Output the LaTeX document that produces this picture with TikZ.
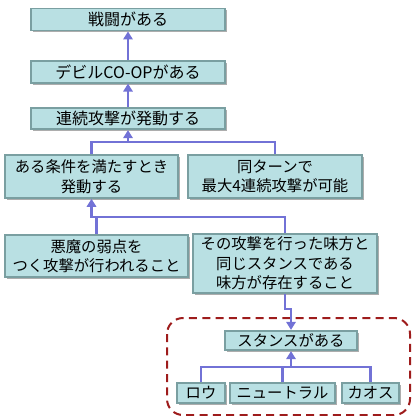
\documentclass[tikz,border=0pt]{standalone}
\usepackage{fontspec}
\setmainfont{Noto Sans CJK JP}
\usetikzlibrary{arrows.meta,shadows}
\definecolor{boxfill}{HTML}{B9E0E3}
\definecolor{boxline}{HTML}{7A9FA1}
\definecolor{linkcol}{HTML}{7272D6}
\definecolor{groupcol}{HTML}{9E1C1C}
\begin{document}
\begin{tikzpicture}[x=0.75pt,y=-0.75pt,
  box/.style={draw=boxline, line width=1.4pt, fill=boxfill, align=center, inner sep=1pt,
    font=\fontsize{11.5}{14.6}\selectfont,
    drop shadow={shadow xshift=1.5pt, shadow yshift=-1.5pt, fill=black!40, opacity=0.8}},
  link/.style={draw=linkcol, line width=1.8pt},
  arr/.style={link, -{Triangle[width=7pt,length=6pt]}}]
  \useasboundingbox (0,0) rectangle (411,416);
  % stance group
  \draw[groupcol, line width=1.5pt, dash pattern=on 6pt off 4pt, rounded corners=12pt] (167,318) rectangle (410,415);
  % boxes
  \node[box, minimum width=145.5pt, minimum height=16.5pt, font=\fontsize{12}{14}\selectfont] (b1) at (128,19.5) {戦闘がある};
  \node[box, minimum width=145.5pt, minimum height=16pt, font=\fontsize{12}{14}\selectfont] (b2) at (128,72) {デビルCO-OPがある};
  \node[box, minimum width=145.5pt, minimum height=16pt, font=\fontsize{12}{14}\selectfont] (b3) at (128,118.5) {連続攻撃が発動する};
  \node[box, minimum width=130pt, minimum height=32pt] (b4) at (91.5,176.5) {ある条件を満たすとき\\発動する};
  \node[box, minimum width=130.5pt, minimum height=32pt] (b5) at (275,176.5) {同ターンで\\最大4連続攻撃が可能};
  \node[box, minimum width=137pt, minimum height=31.5pt] (b6) at (96.5,256) {悪魔の弱点を\\つく攻撃が行われること};
  \node[box, minimum width=138pt, minimum height=44pt] (b7) at (285,263.5) {その攻撃を行った味方と\\同じスタンスである\\味方が存在すること};
  \node[box, minimum width=99pt, minimum height=14.5pt] (b8) at (291,340.5) {スタンスがある};
  \node[box, minimum width=36pt, minimum height=15pt] (lo) at (201,393) {ロウ};
  \node[box, minimum width=79pt, minimum height=15pt] (ne) at (282.5,393) {ニュートラル};
  \node[box, minimum width=43pt, minimum height=15pt] (ka) at (370.5,393) {カオス};
  % junctions
  \coordinate (j1) at (91.5,142);
  \coordinate (j2) at (96.5,217);
  \coordinate (j3) at (285,309);
  \coordinate (j4) at (201,367);
  % connectors
  \draw[arr] (b2.north) -- (b1.south);
  \draw[arr] (b3.north) -- (b2.south);
  \draw[link] (b4.north) |- (j1) -| (b5.north);
  \draw[arr] (j1 -| b3.south) -- (b3.south);
  \draw[link] (b6.north) -- (j2);
  \draw[arr] (b7.north) |- (j2 -| b4.south) -- (b4.south);
  \draw[arr] (b7.south) |- (j3) -| (b8.north);
  \draw[link] (lo.north) |- (j4) -| (ka.north);
  \draw[link] (ne.north) -- (ne.north |- j4);
  \draw[arr] (j4 -| b8.south) -- (b8.south);
\end{tikzpicture}
\end{document}
